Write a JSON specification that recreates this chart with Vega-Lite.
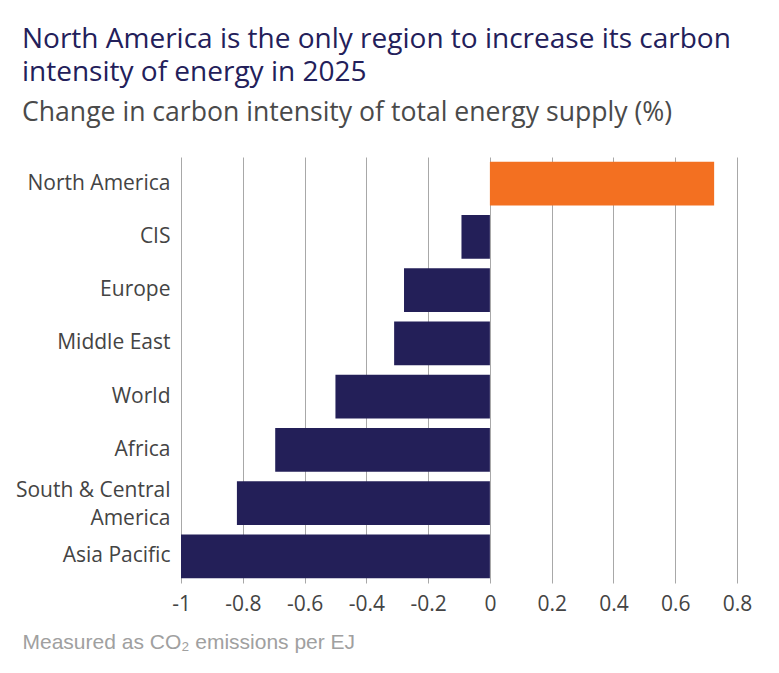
{
  "$schema": "https://vega.github.io/schema/vega-lite/v6.json",
  "width": 556,
  "height": 426,
  "autosize": {"type": "none"},
  "padding": {"left": 181, "top": 157, "right": 42, "bottom": 90},
  "background": "white",
  "title": {
    "text": ["North America is the only region to increase its carbon", "intensity of energy in 2025"],
    "subtitle": "Change in carbon intensity of total energy supply (%)",
    "anchor": "start",
    "frame": "group",
    "dx": -159,
    "font": "Open Sans",
    "fontSize": 28,
    "fontWeight": "normal",
    "color": "#23205a",
    "lineHeight": 33,
    "subtitleFont": "Open Sans",
    "subtitleFontSize": 26.6,
    "subtitleColor": "#4a4a4a",
    "subtitlePadding": 13,
    "offset": 30
  },
  "data": {
    "values": [
      {"region": "North America", "value": 0.726},
      {"region": "CIS", "value": -0.092},
      {"region": "Europe", "value": -0.278},
      {"region": "Middle East", "value": -0.31},
      {"region": "World", "value": -0.5},
      {"region": "Africa", "value": -0.695},
      {"region": "South & Central America", "value": -0.819},
      {"region": "Asia Pacific", "value": -1.0}
    ]
  },
  "mark": {"type": "bar"},
  "encoding": {
    "y": {
      "field": "region",
      "type": "nominal",
      "sort": ["North America", "CIS", "Europe", "Middle East", "World", "Africa", "South & Central America", "Asia Pacific"],
      "scale": {"paddingInner": 0.18, "paddingOuter": 0.09},
      "axis": {
        "title": null,
        "ticks": false,
        "domain": false,
        "labelPadding": 11,
        "labelFont": "Open Sans",
        "labelFontSize": 21,
        "labelColor": "#444444",
        "labelLineHeight": 28,
        "labelOffset": {"condition": {"test": "datum.value == 'South & Central America'", "value": -12}, "value": 0},
        "labelExpr": "datum.value == 'South & Central America' ? ['South & Central', 'America'] : datum.value"
      }
    },
    "x": {
      "field": "value",
      "type": "quantitative",
      "scale": {"domain": [-1, 0.8], "nice": false, "zero": false},
      "axis": {
        "values": [-1, -0.8, -0.6, -0.4, -0.2, 0, 0.2, 0.4, 0.6, 0.8],
        "labelExpr": "replace(format(datum.value, '~g'), '\u2212', '-')",
        "grid": true,
        "gridColor": "#a8a8a8",
        "gridWidth": 1,
        "gridOpacity": 1,
        "ticks": false,
        "domain": false,
        "labelPadding": 10,
        "labelFont": "Open Sans",
        "labelFontSize": 21,
        "labelColor": "#444444",
        "labelFlush": false,
        "title": "Measured as CO₂ emissions per EJ",
        "titleFont": "Liberation Sans",
        "titleFontSize": 21,
        "titleFontWeight": "normal",
        "titleColor": "#a0a0a0",
        "titleAnchor": "start",
        "titleAlign": "left",
        "titleX": -159,
        "titleY": 65,
        "titleBaseline": "alphabetic"
      }
    },
    "color": {
      "condition": {"test": "datum.value > 0", "value": "#f37021"},
      "value": "#231f58"
    }
  },
  "config": {"view": {"stroke": null}}
}
